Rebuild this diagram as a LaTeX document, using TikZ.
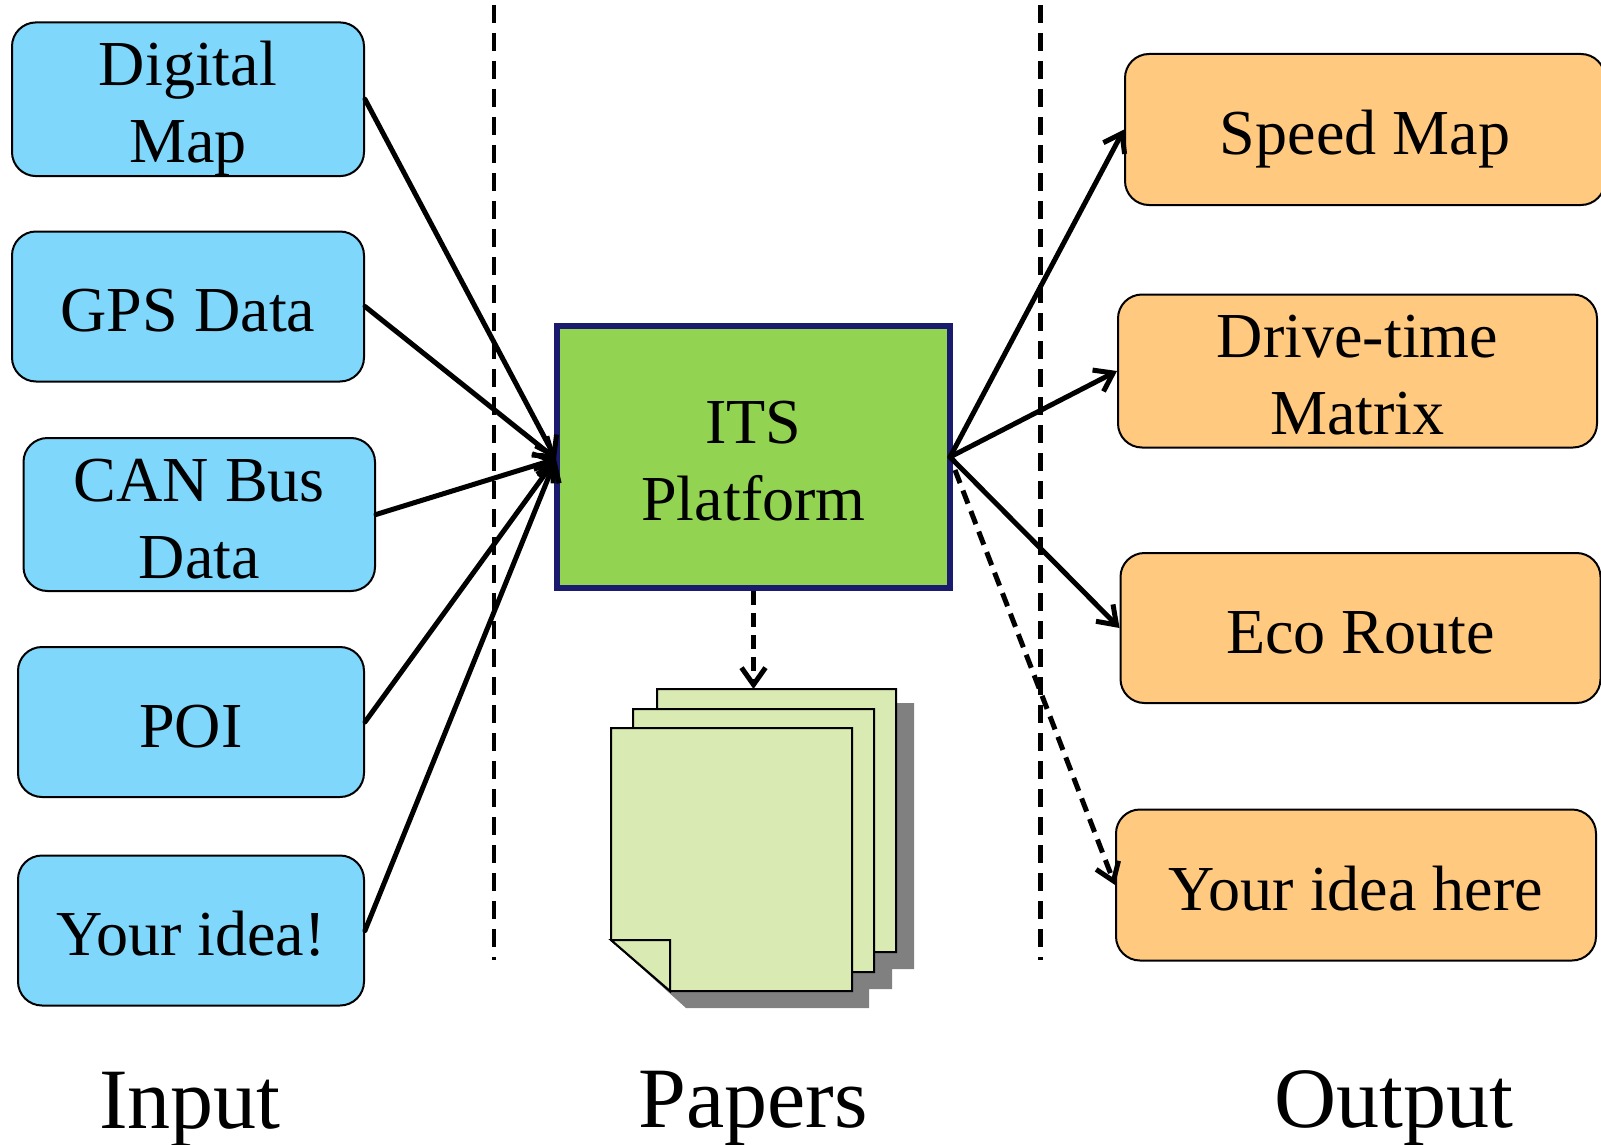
\documentclass[tikz,border=0pt]{standalone}
\usepackage{fontspec}
\setmainfont{Liberation Serif}
\usetikzlibrary{arrows.meta}
\definecolor{inblue}{HTML}{7FD7FB}
\definecolor{outorange}{HTML}{FFCA7F}
\definecolor{platgreen}{HTML}{92D351}
\definecolor{platnavy}{HTML}{1A1A6E}
\definecolor{papergreen}{HTML}{D9EAB2}
\definecolor{shadowgrey}{HTML}{808080}
\newcommand{\boxstrut}{\rule[-13pt]{0pt}{76pt}}
\tikzset{
  x=1pt,y=-1pt,
  roundbox/.style={draw=black,line width=2pt,rounded corners=24pt,inner sep=0pt,align=center,
    font=\fontsize{64.1}{77}\selectfont},
  inbox/.style={roundbox,fill=inblue},
  outbox/.style={roundbox,fill=outorange},
  platformbox/.style={draw=platnavy,fill=platgreen,line width=5.5pt,inner sep=0pt,align=center,
    font=\fontsize{64.1}{77}\selectfont,minimum width=393pt,minimum height=262pt},
  sheet/.style={draw=black,fill=papergreen,line width=2pt},
  caption/.style={font=\fontsize{86}{100}\selectfont,anchor=base,inner sep=0pt},
  flow/.style={line width=5pt,line cap=round,-{Straight Barb[length=17pt,width=24pt,line width=5pt]}},
  flowdash/.style={line width=5pt,dash pattern=on 14pt off 8pt,-{Straight Barb[length=17pt,width=24pt,line width=5pt,sep=0pt]}},
  divider/.style={line width=4.6pt,dash pattern=on 18pt off 10pt},
}
\begin{document}
\begin{tikzpicture}
\useasboundingbox (0,0) rectangle (1601,1145);
\clip (0,0) rectangle (1601,1145);
% dividers
\coordinate (d1t) at (494,5); \coordinate (d1b) at (494,960);
\coordinate (d2t) at (1040.5,5); \coordinate (d2b) at (1040.5,960);
\draw[divider] (d1t) -- (d1b);
\draw[divider] (d2t) -- (d2b);
% input boxes
\node[inbox,minimum width=352pt,minimum height=150pt] (digital) at (188,99.25) {\boxstrut Digital\\\boxstrut Map};
\node[inbox,minimum width=352pt,minimum height=150pt] (gps) at (188,306.5) {\boxstrut GPS Data};
\node[inbox,minimum width=351.5pt,minimum height=150pt] (can) at (199.25,514.5) {\boxstrut CAN Bus\\\boxstrut Data};
\node[inbox,minimum width=346pt,minimum height=150pt] (poi) at (191,722) {\boxstrut POI};
\node[inbox,minimum width=346pt,minimum height=150pt] (idea) at (191,930.5) {\boxstrut Your idea!};
% output boxes
\node[outbox,minimum width=480pt,minimum height=151pt] (speed) at (1365,129.5) {\boxstrut Speed Map};
\node[outbox,minimum width=479pt,minimum height=150pt] (drive) at (1357.5,371) {\boxstrut Drive-time\\\boxstrut Matrix};
\node[outbox,minimum width=480pt,minimum height=150pt] (eco) at (1360.5,628) {\boxstrut Eco Route};
\node[outbox,minimum width=480pt,minimum height=151pt] (here) at (1356,885) {\boxstrut Your idea here};
% platform
\node[platformbox] (platform) at (753.5,457) {\boxstrut ITS\\\boxstrut Platform};
% papers
\fill[shadowgrey] (674,703) -- (914,703) -- (914,969) -- (892,969) -- (892,989) -- (869,989)
  -- (869,1008) -- (686,1008) -- (627,955) -- cycle;
\draw[sheet] (657,689) -- (896,689) -- (896,952) -- (716,952) -- (657,901) -- cycle;
\draw[sheet] (633,709) -- (874,709) -- (874,972) -- (692,972) -- (633,921) -- cycle;
\draw[sheet] (611,728) -- (852,728) -- (852,991) -- (670,991) -- (611,940) -- cycle;
\draw[sheet] (611,940) -- (670,940) -- (670,991) -- cycle;
\coordinate (sheettop) at (753.5,689);
% connectors
\coordinate (inhub) at (556,459);
\coordinate (outhub) at (950,457);
\coordinate (dashhub) at (955,470);
\draw[flow] (digital.east) -- (inhub);
\draw[flow] (gps.east) -- (inhub);
\draw[flow] (can.east) -- (inhub);
\draw[flow] (poi.east) -- (inhub);
\draw[flow] (idea.east) -- (inhub);
\draw[flow] (outhub) -- (speed.west);
\draw[flow] (outhub) -- (drive.west);
\draw[flow] (outhub) -- (eco.west);
\draw[flowdash] (dashhub) -- (here.west);
\draw[flowdash] (platform.south) -- (platform.south |- sheettop);
% captions
\node[caption] (capin) at (190,1128) {Input};
\node[caption] (cappap) at (753,1127) {Papers};
\node[caption] (capout) at (1394,1127) {Output};
\end{tikzpicture}
\end{document}
